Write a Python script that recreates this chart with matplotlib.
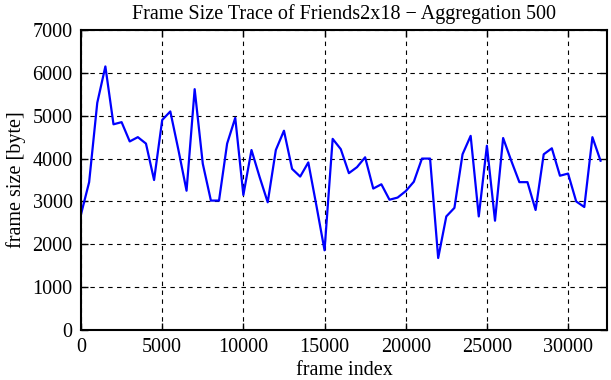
import numpy as np
import matplotlib.pyplot as plt

plt.rcParams['font.family'] = ['Liberation Serif', 'DejaVu Serif']

# aggregated frame sizes, one value per 500 frames
agg = 500
frame_size = [2700, 3450, 5300, 6150, 4800, 4850, 4400, 4500, 4350, 3500,
              4900, 5100, 4200, 3250, 5620, 3880, 3020, 3020, 4350, 4950,
              3150, 4200, 3570, 2980, 4200, 4650, 3760, 3580, 3910, 2900,
              1860, 4460, 4220, 3660, 3800, 4030, 3300, 3400, 3040, 3090,
              3240, 3460, 4000, 4000, 1680, 2650, 2850, 4100, 4530, 2650,
              4300, 2550, 4480, 3950, 3450, 3450, 2800, 4100, 4240, 3600,
              3650, 3000, 2870, 4500, 3950]
frame_index = np.arange(len(frame_size)) * agg

xticks = [0, 5000, 10000, 15000, 20000, 25000, 30000]
yticks = [0, 1000, 2000, 3000, 4000, 5000, 6000, 7000]

fig = plt.figure(figsize=(6.11, 3.80), dpi=100)
ax = fig.add_axes([0.1326, 0.1316, 0.8609, 0.7894])

ax.plot(frame_index, frame_size, color='#0000ff', linewidth=1.6)

ax.set_xlim(0, 32400)
ax.set_ylim(0, 7000)
ax.set_xticks(xticks)
ax.set_yticks(yticks)
ax.grid(True, color='black', linestyle=(0, (4, 4)), linewidth=0.8)
ax.tick_params(direction='in', top=True, right=True, length=5, width=1,
               labelsize=14.5, colors='black', pad=6)
for s in ax.spines.values():
    s.set_linewidth(1.5)

ax.set_title('Frame Size Trace of Friends2x18 \u2212 Aggregation 500', fontsize=14.5, pad=8)
ax.set_xlabel('frame index', fontsize=14.5, labelpad=3)
ax.set_ylabel('frame size [byte]', fontsize=14.5, labelpad=5)

fig.savefig('out.png', dpi=100)
